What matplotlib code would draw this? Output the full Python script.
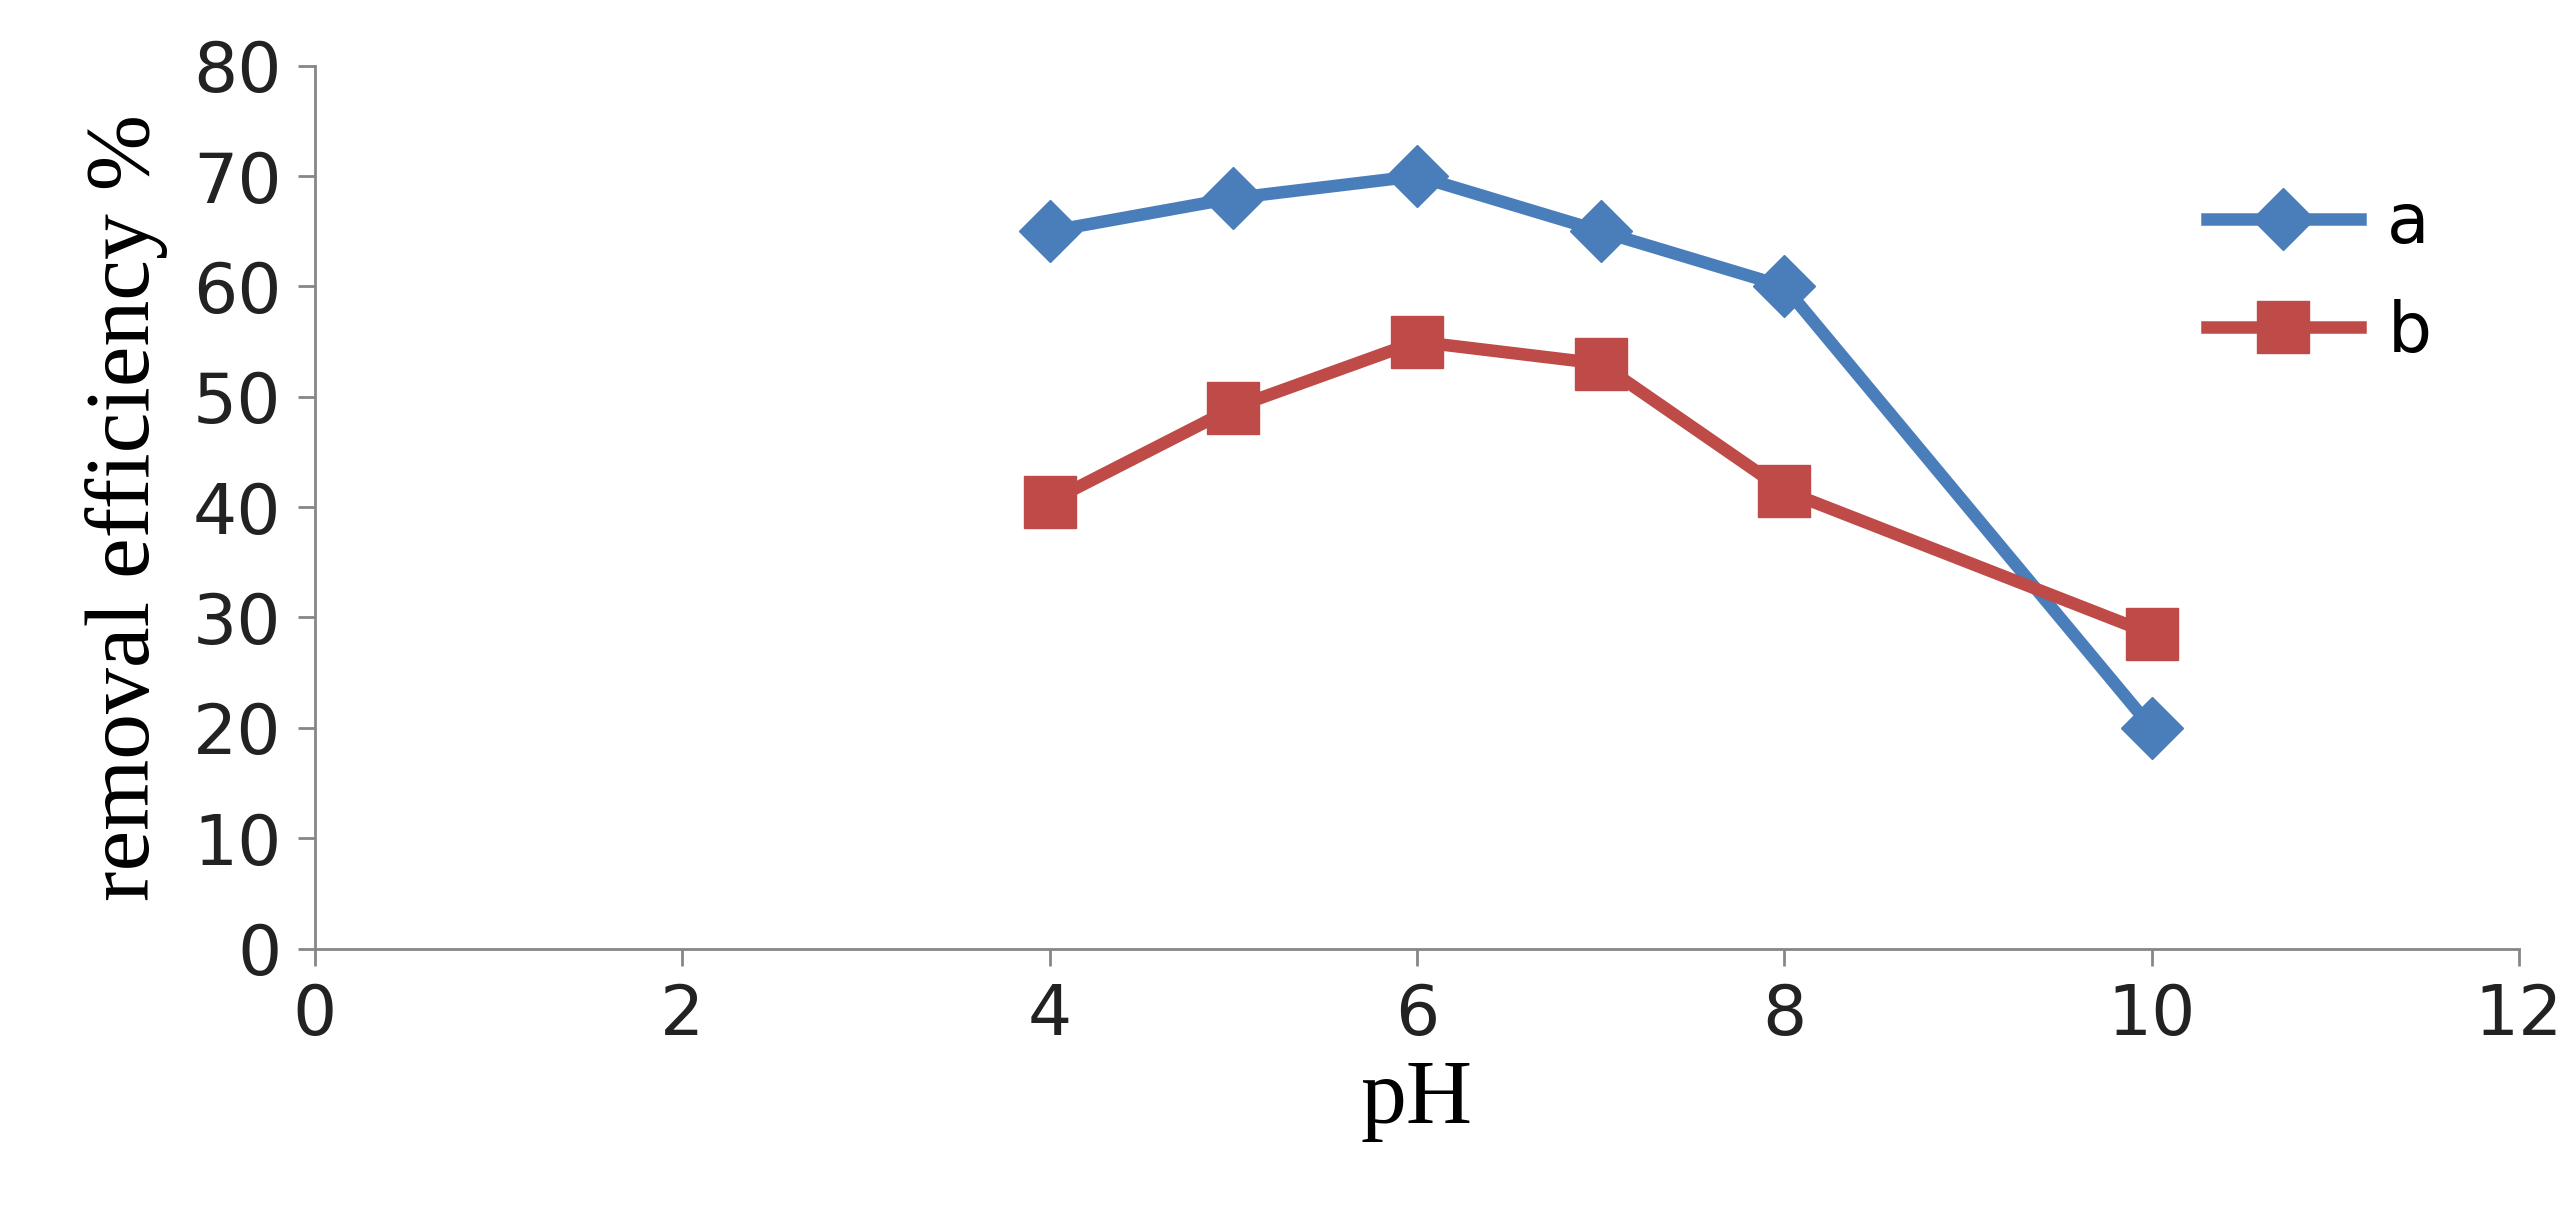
import matplotlib.pyplot as plt

# values
ph_a = [4, 5, 6, 7, 8, 10]
eff_a = [65, 68, 70, 65, 60, 20]
ph_b = [4, 5, 6, 7, 8, 10]
eff_b = [40.5, 49, 55, 53, 41.5, 28.5]

fig = plt.figure(figsize=(25.73, 12.17), dpi=100)
ax = fig.add_axes([0.1224, 0.2206, 0.8566, 0.7254])

ax.plot(ph_a, eff_a, color='#4A7EBB', lw=9, marker='D', ms=32, label='a')
ax.plot(ph_b, eff_b, color='#BE4B48', lw=9, marker='s', ms=38, label='b')

ax.set_xlim(0, 12)
ax.set_ylim(0, 80)
ax.set_xticks(range(0, 13, 2))
ax.set_yticks(range(0, 81, 10))
for s in ['top', 'right']:
    ax.spines[s].set_visible(False)
for s in ['left', 'bottom']:
    ax.spines[s].set_color('#868686')
    ax.spines[s].set_linewidth(2)
ax.tick_params(axis='both', labelsize=50, colors='#868686', length=12, width=2, labelcolor='#222222', pad=12)

ax.set_xlabel('pH', family='Liberation Serif', fontsize=66, labelpad=8)
ax.set_ylabel('removal efficiency %', family='Liberation Serif', fontsize=66, labelpad=18)

ax.legend(loc='upper left', bbox_to_anchor=(0.83, 0.93), frameon=False, fontsize=50,
          handlelength=2.2, labelspacing=0.6, handletextpad=0.4)

fig.savefig('out.png')
